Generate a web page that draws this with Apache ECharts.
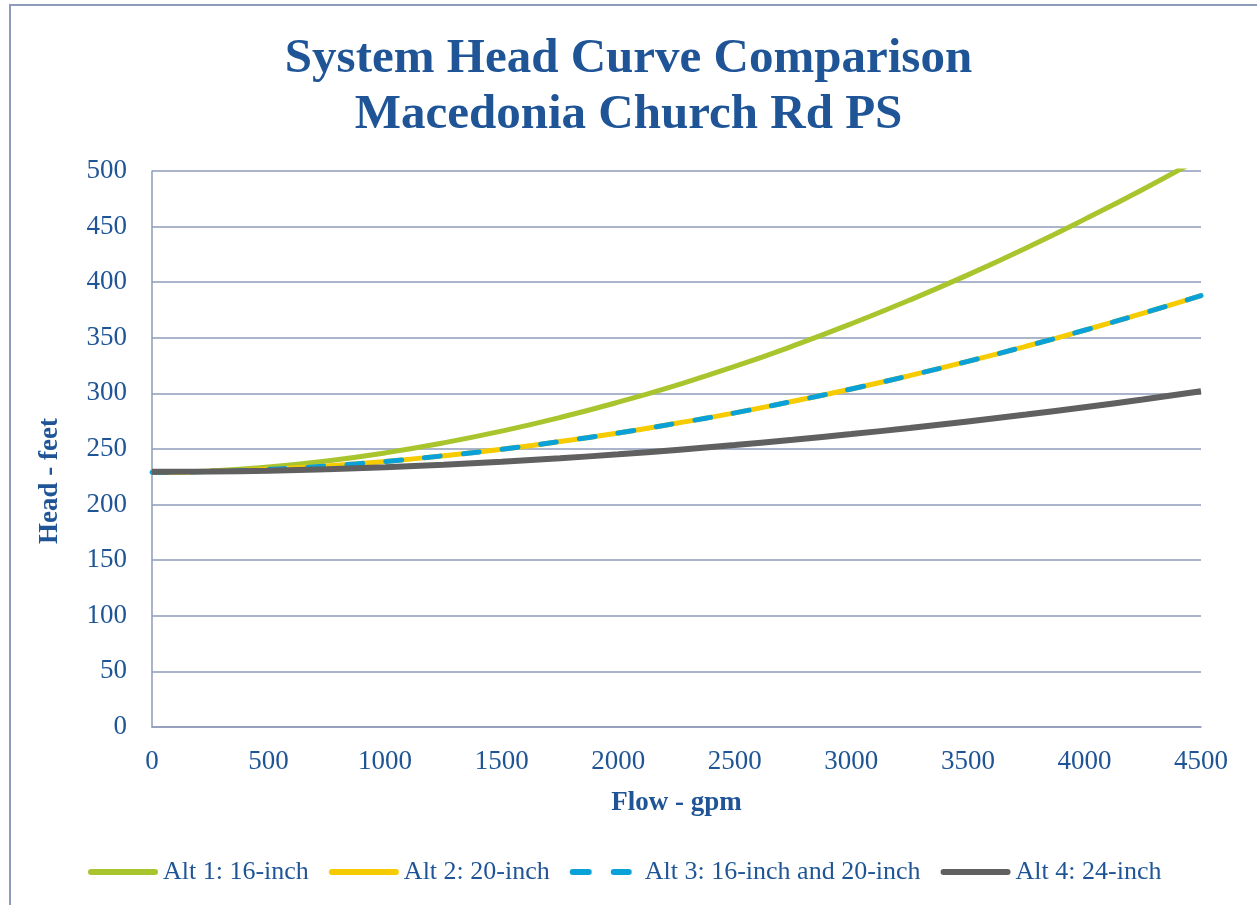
<!DOCTYPE html>
<html>
<head>
<meta charset="utf-8">
<script src="https://cdn.jsdelivr.net/npm/echarts@6/dist/echarts.min.js"></script>
<style>
  html, body { margin: 0; padding: 0; background: #ffffff; }
  #chart { width: 1257px; height: 905px; }
</style>
</head>
<body>
<div id="chart"></div>
<script>
// Flow values (gpm)
var flows = [0, 250, 500, 750, 1000, 1250, 1500, 1750, 2000, 2250, 2500, 2750, 3000, 3250, 3500, 3750, 4000, 4250, 4500];
// Head values (feet)
var alt1 = [229, 230.3, 233.9, 239.3, 246.5, 255.5, 266.1, 278.3, 292.1, 307.4, 324.2, 342.7, 362.6, 383.9, 406.6, 430.8, 456.5, 483.4, 511.8];
var alt2 = [229, 229.8, 231.7, 234.8, 238.8, 243.9, 249.8, 256.7, 264.4, 273.1, 282.5, 292.9, 304.0, 316.0, 328.8, 342.4, 356.8, 372.0, 387.9];
var alt3 = [229, 229.8, 231.7, 234.8, 238.8, 243.9, 249.8, 256.7, 264.4, 273.1, 282.5, 292.9, 304.0, 316.0, 328.8, 342.4, 356.8, 372.0, 387.9];
var alt4 = [229.5, 229.8, 230.5, 231.8, 233.6, 235.9, 238.6, 241.7, 245.2, 249.2, 253.5, 258.3, 263.4, 268.9, 274.8, 281.0, 287.6, 294.5, 301.9];

var seriesNames = ['Alt 1: 16-inch', 'Alt 2: 20-inch', 'Alt 3: 16-inch and 20-inch', 'Alt 4: 24-inch'];
var titleLines = ['System Head Curve Comparison', 'Macedonia Church Rd PS'];
var xName = 'Flow - gpm';
var yName = 'Head - feet';

function pairs(ys) { return flows.map(function (f, i) { return [f, ys[i]]; }); }

var FONT = '"Liberation Serif", "DejaVu Serif", serif';
var BLUE_TEXT = '#1F5596';
var GRID = '#8E9BBA';

var SOLID_ICON = 'path://M3,0H67A3,3 0 0 1 67,6H3A3,3 0 0 1 3,0Z';
var DASH_ICON = 'path://M3,0H19A3,3 0 0 1 19,6H3A3,3 0 0 1 3,0Z M44,0H59A3,3 0 0 1 59,6H44A3,3 0 0 1 44,0Z M70,3';

var chart = echarts.init(document.getElementById('chart'));
chart.setOption({
  animation: false,
  backgroundColor: '#ffffff',
  title: {
    text: titleLines.join('\n'),
    left: 'center',
    top: 26,
    textStyle: { fontFamily: FONT, fontWeight: 'bold', fontSize: 49, lineHeight: 56, color: BLUE_TEXT }
  },
  graphic: [
    { type: 'rect', shape: { x: 10, y: 5, width: 1400, height: 1100 }, style: { fill: 'none', stroke: GRID, lineWidth: 2 }, silent: true },
    { type: 'text', x: 50, y: 481, rotation: Math.PI / 2,
      style: { text: yName, fontFamily: FONT, fontWeight: 'bold', fontSize: 27, fill: BLUE_TEXT, align: 'center', verticalAlign: 'middle' } }
  ],
  legend: {
    left: 88,
    top: 859,
    padding: 0,
    itemWidth: 70,
    itemHeight: 6,
    itemGap: 20,
    textStyle: { fontFamily: FONT, fontSize: 26, color: BLUE_TEXT },
    data: [
      { name: seriesNames[0], icon: SOLID_ICON },
      { name: seriesNames[1], icon: SOLID_ICON },
      { name: seriesNames[2], icon: DASH_ICON },
      { name: seriesNames[3], icon: SOLID_ICON }
    ]
  },
  grid: { left: 152, right: 56, top: 171, bottom: 178, containLabel: false, outerBoundsMode: 'none' },
  xAxis: {
    type: 'value', min: 0, max: 4500, interval: 500,
    name: xName, nameLocation: 'middle', nameGap: 63,
    nameTextStyle: { fontFamily: FONT, fontWeight: 'bold', fontSize: 27, color: BLUE_TEXT },
    axisLine: { show: true, lineStyle: { color: GRID, width: 1.5 } },
    axisTick: { show: false },
    splitLine: { show: false },
    axisLabel: { fontFamily: FONT, fontSize: 27, color: BLUE_TEXT, margin: 21, formatter: function (v) { return String(v); } }
  },
  yAxis: {
    type: 'value', min: 0, max: 500, interval: 50,
    axisLine: { show: true, lineStyle: { color: GRID, width: 1.5 } },
    axisTick: { show: false },
    splitLine: { show: true, lineStyle: { color: GRID, width: 1.5 } },
    axisLabel: { fontFamily: FONT, fontSize: 27, color: BLUE_TEXT, margin: 25, formatter: function (v) { return String(v); } }
  },
  series: [
    { name: seriesNames[0], type: 'line', data: pairs(alt1), smooth: true, symbol: 'none', clip: true,
      lineStyle: { color: '#A9C52D', width: 5 }, itemStyle: { color: '#A9C52D' } },
    { name: seriesNames[1], type: 'line', data: pairs(alt2), smooth: true, symbol: 'none', clip: true,
      lineStyle: { color: '#F6CB00', width: 5 }, itemStyle: { color: '#F6CB00' } },
    { name: seriesNames[2], type: 'line', data: pairs(alt3), smooth: true, symbol: 'none', clip: true,
      lineStyle: { color: '#0AA0D8', width: 5, type: [16, 23], cap: 'round' }, itemStyle: { color: '#0AA0D8' } },
    { name: seriesNames[3], type: 'line', data: pairs(alt4), smooth: true, symbol: 'none', clip: true,
      lineStyle: { color: '#5F605F', width: 6 }, itemStyle: { color: '#5F605F' } }
  ]
});
</script>
</body>
</html>
